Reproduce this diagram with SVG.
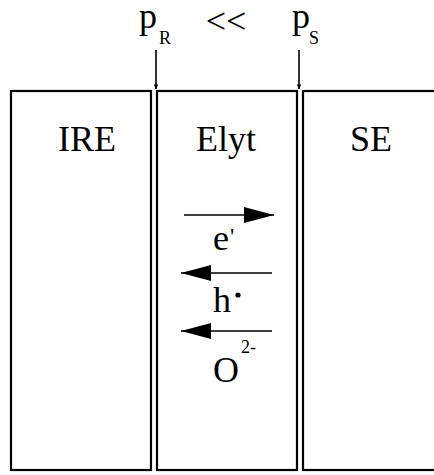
<svg xmlns="http://www.w3.org/2000/svg" width="434" height="475" viewBox="0 0 434 475">
<defs>
<marker id="bigHead" viewBox="0 0 30 16" refX="30" refY="8" markerWidth="30" markerHeight="16" markerUnits="userSpaceOnUse" orient="auto">
<path d="M0,0 L30,8 L0,16 Z" fill="#000"/>
</marker>
<marker id="smallHead" viewBox="0 0 8 14" refX="8" refY="4" markerWidth="14" markerHeight="8" markerUnits="userSpaceOnUse" orient="auto">
<path d="M0,0 L8,4 L0,8 Z" fill="#000"/>
</marker>
</defs>
<style>
.box{fill:#fff;stroke:#000;stroke-width:2.2}
text{font-family:'Liberation Serif','Times New Roman',Times,'DejaVu Serif',serif;fill:#000}
.big{font-size:36px}
.sub{font-size:18px}
.ln{stroke:#000;stroke-width:1.6;fill:none}
</style>
<rect width="434" height="475" fill="#fff"/>
<g id="IRE">
<rect class="box" x="11" y="91" width="140" height="379"/>
<text class="big" x="87" y="151" text-anchor="middle">IRE</text>
</g>
<g id="Elyt">
<rect class="box" x="157" y="91" width="140" height="379"/>
<text class="big" x="226" y="151" text-anchor="middle">Elyt</text>
</g>
<g id="SE">
<rect class="box" x="303" y="91" width="140" height="379"/>
<text class="big" x="371" y="151" text-anchor="middle">SE</text>
</g>
<g id="pR">
<text class="big" x="139" y="28">p</text>
<text class="sub" x="159" y="44">R</text>
</g>
<g id="ll">
<text class="big" x="226" y="33" text-anchor="middle">&lt;&lt;</text>
</g>
<g id="pS">
<text class="big" x="292" y="28">p</text>
<text class="sub" x="309" y="44">S</text>
</g>
<g id="connectors">
<line class="ln" x1="156" y1="50" x2="156" y2="89" marker-end="url(#smallHead)"/>
<line class="ln" x1="299" y1="50" x2="299" y2="89" marker-end="url(#smallHead)"/>
<line class="ln" x1="184" y1="215" x2="274" y2="215" marker-end="url(#bigHead)"/>
<line class="ln" x1="272" y1="273" x2="181" y2="273" marker-end="url(#bigHead)"/>
<line class="ln" x1="272" y1="331" x2="181" y2="331" marker-end="url(#bigHead)"/>
</g>
<g id="labels">
<text class="big" x="213" y="250">e</text>
<text x="230" y="244" font-size="24">'</text>
<text class="big" x="213" y="312">h</text>
<circle cx="238" cy="295" r="2.6" fill="#000"/>
<text class="big" x="213" y="382">O</text>
<text class="sub" x="241" y="353">2-</text>
</g>
</svg>
